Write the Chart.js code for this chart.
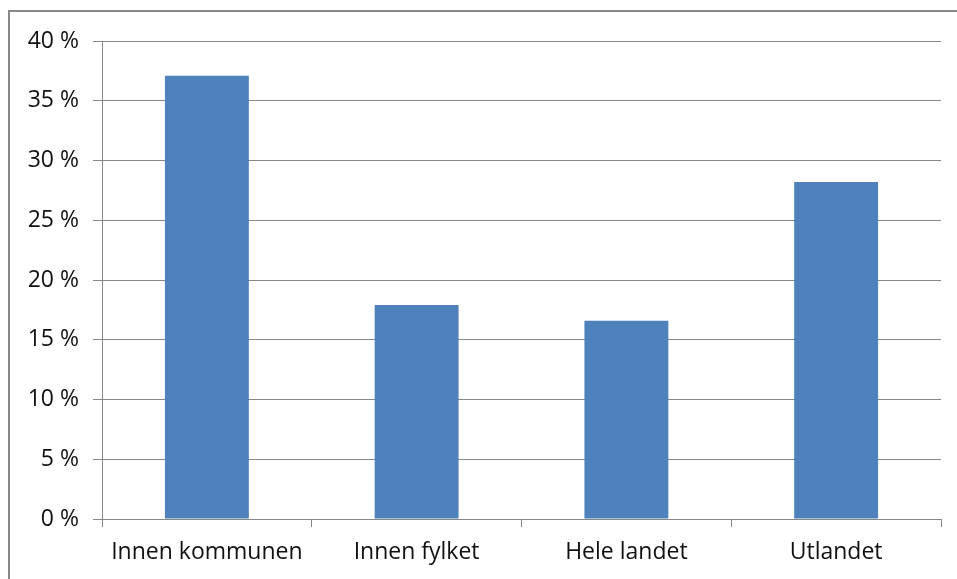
<!DOCTYPE html>
<html>
<head>
<meta charset="utf-8">
<script src="https://cdn.jsdelivr.net/npm/chart.js@4"></script>
<style>
  body { margin: 0; background: #fff; }
  #frame { position: absolute; left: 8px; top: 10px; width: 960px; height: 580px; border: 2px solid #888; box-sizing: border-box; }
  #wrap { position: absolute; left: 0; top: 0; width: 957px; height: 579px; }
</style>
</head>
<body>
<div id="frame"></div>
<div id="wrap"><canvas id="c"></canvas></div>
<script>
const categories = ["Innen kommunen", "Innen fylket", "Hele landet", "Utlandet"];
const shares = [37.1, 17.9, 16.6, 28.2];
const yTicks = [0, 5, 10, 15, 20, 25, 30, 35, 40];

const labelFont = { family: "'Open Sans', 'DejaVu Sans', sans-serif", size: 23 };

new Chart(document.getElementById('c'), {
    type: 'bar',
    data: {
        labels: categories,
        datasets: [{
            data: shares,
            backgroundColor: '#4F81BD',
            borderWidth: 0,
            barPercentage: 0.4,
            categoryPercentage: 1.0
        }]
    },
    options: {
        responsive: true,
        maintainAspectRatio: false,
        animation: false,
        layout: { padding: { left: 0, top: 41, right: 16, bottom: 0 } },
        plugins: { legend: { display: false }, tooltip: { enabled: false } },
        scales: {
            x: {
                grid: { offset: true, drawOnChartArea: false, color: '#888', tickLength: 8 },
                border: { color: '#888', width: 1 },
                ticks: { color: '#111', font: labelFont, padding: 12, maxRotation: 0 },
                afterFit: s => { s.height = 60; }
            },
            y: {
                min: 0,
                max: 40,
                afterBuildTicks: s => { s.ticks = yTicks.map(v => ({ value: v })); },
                grid: { color: '#888', tickLength: 9 },
                border: { color: '#888', width: 1 },
                ticks: { color: '#111', font: labelFont, padding: 14, callback: v => v + ' %' },
                afterFit: s => { s.width = 102; }
            }
        }
    }
});
</script>
</body>
</html>
